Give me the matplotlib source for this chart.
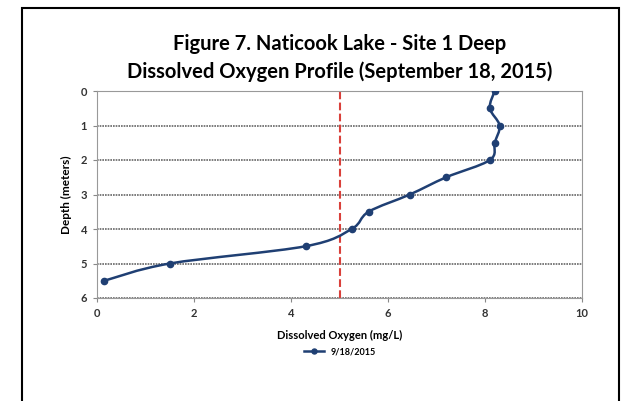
import matplotlib.pyplot as plt
from matplotlib.patches import Rectangle, PathPatch
from matplotlib.path import Path
from matplotlib.lines import Line2D

# dissolved oxygen profile, 9/18/2015
depth = [0, 0.5, 1, 1.5, 2, 2.5, 3, 3.5, 4, 4.5, 5, 5.5]
oxygen = [8.2, 8.1, 8.3, 8.2, 8.1, 7.2, 6.45, 5.6, 5.25, 4.3, 1.5, 0.15]
threshold = 5
x_ticks = [0, 2, 4, 6, 8, 10]
y_ticks = [0, 1, 2, 3, 4, 5, 6]

plt.rcParams['font.family'] = ['Lato', 'DejaVu Sans']

line_color = '#1f3f73'

fig = plt.figure(figsize=(6.21, 4.01), dpi=100)
ax = fig.add_axes([97 / 621, 1 - 298 / 401, (582 - 97) / 621, (298 - 91) / 401])

# outer chart border
fig.patches.append(Rectangle((22 / 621, -0.05), (619 - 22) / 621, 1.05 - 8 / 401,
                             transform=fig.transFigure, fill=False,
                             edgecolor='black', linewidth=1.5))

# smoothed line like excel (catmull-rom -> bezier)
pts = list(zip(oxygen, depth))
verts = [pts[0]]
codes = [Path.MOVETO]
n = len(pts)
for i in range(n - 1):
    p0 = pts[max(i - 1, 0)]
    p1 = pts[i]
    p2 = pts[i + 1]
    p3 = pts[min(i + 2, n - 1)]
    c1 = (p1[0] + (p2[0] - p0[0]) / 6, p1[1] + (p2[1] - p0[1]) / 6)
    c2 = (p2[0] - (p3[0] - p1[0]) / 6, p2[1] - (p3[1] - p1[1]) / 6)
    verts += [c1, c2, p2]
    codes += [Path.CURVE4] * 3
ax.add_patch(PathPatch(Path(verts, codes), facecolor='none', edgecolor=line_color,
                       linewidth=1.8, zorder=3))
ax.plot(oxygen, depth, color=line_color, linestyle='none', marker='o',
        markersize=4.5, zorder=4)
ax.axvline(threshold, color='#d9403a', linestyle='--', linewidth=1.5, zorder=2)

ax.set_xlim(0, 10)
ax.set_ylim(6, 0)
ax.set_xticks(x_ticks)
ax.set_yticks(y_ticks)
ax.tick_params(labelsize=8, length=3, color='#888888', width=0.8, pad=4)
for lab in ax.get_xticklabels() + ax.get_yticklabels():
    lab.set_fontweight('bold')
    lab.set_color('#333333')

ax.yaxis.grid(True, linestyle=(0, (1, 0.6)), color='#666666', linewidth=1.2)
for s in ax.spines.values():
    s.set_color('#999999')
    s.set_linewidth(0.8)

ax.set_xlabel('Dissolved Oxygen (mg/L)', fontsize=8, fontweight='bold', labelpad=8)
ax.set_ylabel('Depth (meters)', fontsize=8.5, fontweight='bold', labelpad=6)

fig.text(340 / 621, 1 - 44 / 401, 'Figure 7. Naticook Lake - Site 1 Deep',
         ha='center', va='center', fontsize=14.5, fontweight='bold')
fig.text(340 / 621, 1 - 72 / 401, 'Dissolved Oxygen Profile (September 18, 2015)',
         ha='center', va='center', fontsize=14.5, fontweight='bold')

handle = Line2D([], [], color=line_color, linewidth=1.8, marker='o', markersize=3.6)
leg = ax.legend([handle], ['9/18/2015'], loc='center',
                bbox_to_anchor=(340 / 621, 1 - 352 / 401),
                bbox_transform=fig.transFigure, frameon=False, fontsize=6.5,
                handlelength=2.2)
for t in leg.get_texts():
    t.set_fontweight('bold')

fig.savefig('out.png', dpi=100)
